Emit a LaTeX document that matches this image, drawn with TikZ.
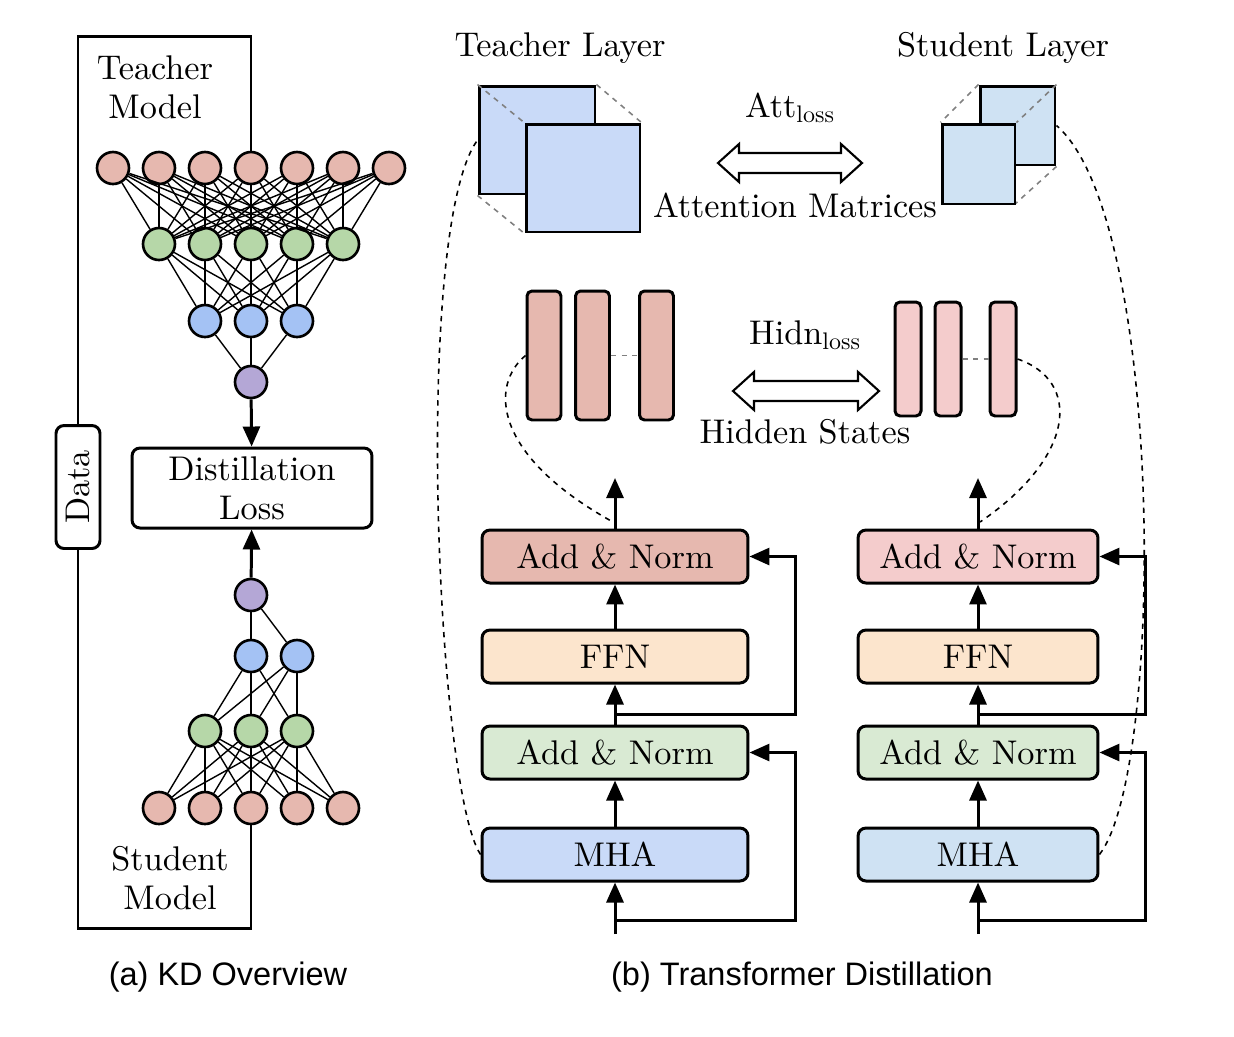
\documentclass[tikz,border=0pt]{standalone}
\usepackage{fontspec}
\setmainfont{lmroman10-regular.otf}
\newfontfamily\capfont{Liberation Sans}
\usetikzlibrary{arrows.meta}

\definecolor{nred}{HTML}{E6B8AF}
\definecolor{ngreen}{HTML}{B6D7A8}
\definecolor{nblue}{HTML}{A4C2F4}
\definecolor{npurple}{HTML}{B4A7D6}
\definecolor{tblue}{HTML}{C9DAF8}
\definecolor{sblue}{HTML}{CFE2F3}
\definecolor{spink}{HTML}{F4CCCC}
\definecolor{peach}{HTML}{FCE5CD}
\definecolor{lgreen}{HTML}{D9EAD3}

\tikzset{
    neuron/.style={circle, draw, line width=1.5pt, minimum size=0.64cm, inner sep=0pt},
    wire/.style={line width=0.8pt},
    frame/.style={line width=1.7pt},
    flow/.style={line width=1.7pt, -{Triangle[length=0.4cm,width=0.34cm]}},
    guide/.style={dashed, line width=0.9pt},
    attbox/.style={draw, line width=1.7pt, inner sep=0pt},
    hstate/.style={draw, line width=1.7pt, rounded corners=0.1cm, inner sep=0pt},
    tblock/.style={draw, line width=1.7pt, rounded corners=0.16cm, minimum width=5.32cm, minimum height=1.06cm},
    sblock/.style={tblock, minimum width=4.8cm},
    hollow/.style={draw, line width=1.2pt, fill=white}
}

\begin{document}
\begin{tikzpicture}[x=0.02cm, y=-0.02cm, font=\fontsize{19.5}{22}\selectfont]
    \useasboundingbox (0,0) rectangle (1234,1036);

    % (a) teacher network
    \foreach \i in {1,...,7} \node[neuron, fill=nred] (ta\i) at (67+46*\i, 168) {};
    \foreach \i in {1,...,5} \node[neuron, fill=ngreen] (tb\i) at (113+46*\i, 244) {};
    \foreach \i in {1,...,3} \node[neuron, fill=nblue] (tc\i) at (159+46*\i, 321) {};
    \node[neuron, fill=npurple] (td) at (251, 382) {};
    \foreach \i in {1,...,7} \foreach \j in {1,...,5} \draw[wire] (ta\i) -- (tb\j);
    \foreach \i in {1,...,5} \foreach \j in {1,...,3} \draw[wire] (tb\i) -- (tc\j);
    \foreach \i in {1,...,3} \draw[wire] (tc\i) -- (td);

    % (a) student network
    \foreach \i in {1,...,5} \node[neuron, fill=nred] (sa\i) at (113+46*\i, 808) {};
    \foreach \i in {1,...,3} \node[neuron, fill=ngreen] (sb\i) at (159+46*\i, 731) {};
    \node[neuron, fill=nblue] (sc1) at (251, 656) {};
    \node[neuron, fill=nblue] (sc2) at (297, 656) {};
    \node[neuron, fill=npurple] (sd) at (251, 595) {};
    \foreach \i in {1,...,5} \foreach \j in {1,...,3} \draw[wire] (sa\i) -- (sb\j);
    \foreach \i in {1,...,3} \foreach \j in {1,2} \draw[wire] (sb\i) -- (sc\j);
    \draw[wire] (sc1) -- (sd);
    \draw[wire] (sc2) -- (sd);

    \node[align=center] (tmodel) at (155, 87) {Teacher\\Model};
    \node[align=center] (smodel) at (170, 878) {Student\\Model};

    \node[draw, line width=1.7pt, rounded corners=0.16cm, minimum width=4.8cm, minimum height=1.6cm, align=center] (loss) at (252, 488) {Distillation\\Loss};
    \node[draw, line width=1.7pt, rounded corners=0.16cm, rotate=90, minimum width=2.46cm, minimum height=0.88cm] (data) at (78, 487) {Data};

    \draw[frame] (ta4.north) -- (251, 36) -- (78, 36) -- (data.east);
    \draw[frame] (data.west) -- (78, 928) -- (251, 928) -- (sa3.south);
    \draw[flow] (td) -- (loss);
    \draw[flow] (sd) -- (loss);

    % (b) attention matrices
    \node (tlayer) at (560, 48) {Teacher Layer};
    \node (slayer) at (1003, 48) {Student Layer};
    \node[attbox, fill=tblue, minimum width=2.32cm, minimum height=2.16cm] (tattb) at (537, 140) {};
    \draw[guide, gray] (tattb.north west) -- (583-57, 178-54);
    \node[attbox, fill=tblue, minimum width=2.28cm, minimum height=2.16cm] (tattf) at (583, 178) {};
    \draw[guide, gray] (tattb.north east) -- (tattf.north east);
    \draw[guide, gray] (tattb.south west) -- (tattf.south west);
    \node[attbox, fill=sblue, minimum width=1.5cm, minimum height=1.58cm] (sattb) at (1017.5, 125.5) {};
    \draw[guide, gray] (sattb.south east) -- (978.5+36.5, 164+40);
    \node[attbox, fill=sblue, minimum width=1.46cm, minimum height=1.6cm] (sattf) at (978.5, 164) {};
    \draw[guide, gray] (sattb.north west) -- (sattf.north west);
    \draw[guide, gray] (sattb.north east) -- (sattf.north east);

    \node (attlbl) at (790, 108) {Att$_{\mathrm{loss}}$};
    \draw[hollow, shift={(790, 163)}] (-72, 0) -- (-51, -19) -- (-51, -10) -- (51, -10) -- (51, -19) -- (72, 0)
        -- (51, 19) -- (51, 10) -- (-51, 10) -- (-51, 19) -- cycle;
    \node (attname) at (795, 205) {Attention Matrices};

    % (b) hidden states
    \node[hstate, fill=nred, minimum width=0.68cm, minimum height=2.58cm] (th1) at (544, 355.5) {};
    \node[hstate, fill=nred, minimum width=0.68cm, minimum height=2.58cm] (th2) at (592.5, 355.5) {};
    \node[hstate, fill=nred, minimum width=0.68cm, minimum height=2.58cm] (th3) at (656.5, 355.5) {};
    \draw[guide, gray] (th2) -- (th3);
    \node[hstate, fill=spink, minimum width=0.52cm, minimum height=2.28cm] (sh1) at (908, 359) {};
    \node[hstate, fill=spink, minimum width=0.52cm, minimum height=2.28cm] (sh2) at (948, 359) {};
    \node[hstate, fill=spink, minimum width=0.52cm, minimum height=2.28cm] (sh3) at (1003, 359) {};
    \draw[guide, gray] (sh2) -- (sh3);

    \node (hidlbl) at (805, 335) {Hidn$_{\mathrm{loss}}$};
    \draw[hollow, shift={(806, 391)}] (-73, 0) -- (-52, -19) -- (-52, -10) -- (52, -10) -- (52, -19) -- (73, 0)
        -- (52, 19) -- (52, 10) -- (-52, 10) -- (-52, 19) -- cycle;
    \node (hidname) at (805, 432) {Hidden States};

    % (b) teacher layer blocks
    \node[tblock, fill=nred] (tan2) at (615, 556.5) {Add \& Norm};
    \node[tblock, fill=peach] (tffn) at (615, 656.5) {FFN};
    \node[tblock, fill=lgreen] (tan1) at (615, 752.5) {Add \& Norm};
    \node[tblock, fill=tblue] (tmha) at (615, 854.5) {MHA};
    \coordinate (tin) at (615, 934);
    \coordinate (tout) at (615, 478);
    \coordinate (tres1) at (615, 920);
    \coordinate (tres2) at (615, 714);
    \coordinate (tjoin) at (613, 522);
    \draw[flow] (tin) -- (tmha);
    \draw[flow] (tmha) -- (tan1);
    \draw[flow] (tan1) -- (tffn);
    \draw[flow] (tffn) -- (tan2);
    \draw[flow] (tan2) -- (tout);
    \draw[flow] (tres1) -- ++(180, 0) |- (tan1.east);
    \draw[flow] (tres2) -- ++(180, 0) |- (tan2.east);

    % (b) student layer blocks
    \node[sblock, fill=spink] (san2) at (978, 556.5) {Add \& Norm};
    \node[sblock, fill=peach] (sffn) at (978, 656.5) {FFN};
    \node[sblock, fill=lgreen] (san1) at (978, 752.5) {Add \& Norm};
    \node[sblock, fill=sblue] (smha) at (978, 854.5) {MHA};
    \coordinate (sin) at (978, 934);
    \coordinate (sout) at (978, 478);
    \coordinate (sres1) at (978, 920);
    \coordinate (sres2) at (978, 714);
    \coordinate (sjoin) at (980, 522);
    \draw[flow] (sin) -- (smha);
    \draw[flow] (smha) -- (san1);
    \draw[flow] (san1) -- (sffn);
    \draw[flow] (sffn) -- (san2);
    \draw[flow] (san2) -- (sout);
    \draw[flow] (sres1) -- ++(167, 0) |- (san1.east);
    \draw[flow] (sres2) -- ++(167, 0) |- (san2.east);

    % dashed links
    \draw[guide] (tmha.west) .. controls (437, 790) and (412, 230) .. (tattb.west);
    \draw[guide] (smha.east) .. controls (1165, 770) and (1165, 220) .. (sattb.east);
    \draw[guide] (th1.west) .. controls (490, 385) and (492, 455) .. (tjoin);
    \draw[guide] (sh3.east) .. controls (1080, 380) and (1078, 455) .. (sjoin);

    \node[font=\capfont\fontsize{18.5}{22}\selectfont] (capa) at (228, 977) {(a) KD Overview};
    \node[font=\capfont\fontsize{18.5}{22}\selectfont] (capb) at (802, 977) {(b) Transformer Distillation};
\end{tikzpicture}
\end{document}
